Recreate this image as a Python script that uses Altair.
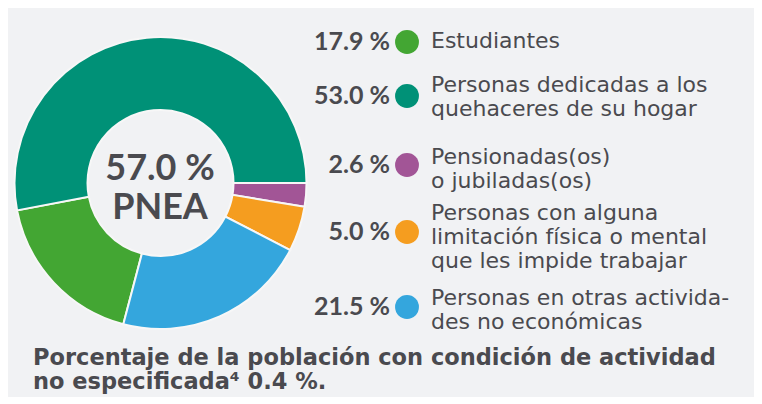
import math
import altair as alt
import pandas as pd

# ---- data ----
categories = [
    "Estudiantes",
    "Personas dedicadas a los quehaceres de su hogar",
    "Pensionadas(os) o jubiladas(os)",
    "Personas con alguna limitación física o mental que les impide trabajar",
    "Personas en otras actividades no económicas",
]
label_text = [
    "Estudiantes",
    "Personas dedicadas a los\nquehaceres de su hogar",
    "Pensionadas(os)\no jubiladas(os)",
    "Personas con alguna\nlimitación física o mental\nque les impide trabajar",
    "Personas en otras activida-\ndes no económicas",
]
values = [17.9, 53.0, 2.6, 5.0, 21.5]
value_labels = ["17.9 %", "53.0 %", "2.6 %", "5.0 %", "21.5 %"]
# clockwise order of slices starting at 3 o'clock
pie_rank = [3, 4, 0, 1, 2]
center_text = "57.0 %\nPNEA"
note_text = "Porcentaje de la población con condición de actividad\nno especificada⁴ 0.4 %."

# ---- styles / layout ----
colors = ["#43a633", "#009177", "#a25596", "#f59d1f", "#34a6dd"]
row_y = [34, 88, 157, 224, 299]          # value + dot rows
label_y = [33, 77, 149, 205, 290]        # first line of each label
TEXT = "#4a4a4f"
BG = "#f1f2f4"

df = pd.DataFrame({
    "cat": categories,
    "label": label_text,
    "value": values,
    "vlabel": value_labels,
    "rank": pie_rank,
    "ry": row_y,
    "ly": label_y,
})

color_scale = alt.Scale(domain=categories, range=colors)

base = alt.Chart(df)

donut = base.mark_arc(
    innerRadius=73, outerRadius=146, stroke="#f7f7f7", strokeWidth=2
).encode(
    theta=alt.Theta("value:Q", stack=True,
                    scale=alt.Scale(range=[math.pi / 2, math.pi / 2 + 2 * math.pi])),
    order=alt.Order("rank:Q"),
    color=alt.Color("cat:N", scale=color_scale, legend=None),
    x=alt.value(152.5),
    y=alt.value(175),
)

center = alt.Chart(pd.DataFrame({"t": [center_text]})).mark_text(
    font="Lato", fontWeight="bold", fontSize=36, color=TEXT,
    lineBreak="\n", lineHeight=39, align="center", baseline="middle"
).encode(text="t:N", x=alt.value(152), y=alt.value(161))

nums = base.mark_text(
    font="Lato", fontWeight="bold", fontSize=25, color=TEXT,
    align="right", baseline="middle"
).encode(text="vlabel:N", x=alt.value(382),
         y=alt.Y("ry:Q", scale=None, axis=None))

dots = base.mark_point(filled=True, size=570, opacity=1, shape="circle").encode(
    color=alt.Color("cat:N", scale=color_scale, legend=None),
    x=alt.value(399),
    y=alt.Y("ry:Q", scale=None, axis=None),
)

labels = base.mark_text(
    font="DejaVu Sans", fontSize=22, color=TEXT, lineBreak="\n", lineHeight=24,
    align="left", baseline="middle"
).encode(text="label:N", x=alt.value(423),
         y=alt.Y("ly:Q", scale=None, axis=None))

note = alt.Chart(pd.DataFrame({"t": [note_text]})).mark_text(
    font="DejaVu Sans", fontWeight="bold", fontSize=22.5, color=TEXT,
    lineBreak="\n", lineHeight=24, align="left", baseline="middle"
).encode(text="t:N", x=alt.value(25), y=alt.value(350))

chart = alt.layer(donut, center, nums, dots, labels, note).properties(
    width=746, height=389, padding=0,
    autosize=alt.AutoSizeParams(type="fit", contains="padding"),
    background=BG,
).configure_view(stroke=None)

chart.save("out.html", embed_options={"renderer": "svg", "actions": False})
